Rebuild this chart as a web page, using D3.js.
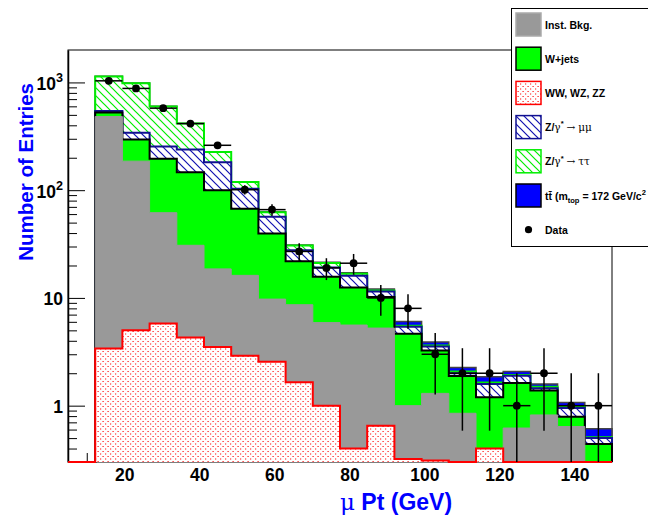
<!DOCTYPE html>
<html>
<head>
<meta charset="utf-8">
<script src="https://cdnjs.cloudflare.com/ajax/libs/d3/7.8.5/d3.min.js"></script>
<style>
  body { margin: 0; background: #fff; }
  svg { display: block; }
</style>
</head>
<body>
<div id="chart"></div>
<script>
// bin edges (GeV), 20 bins of 7.25
const binEdges = [5, 12.25, 19.5, 26.75, 34, 41.25, 48.5, 55.75, 63, 70.25, 77.5,
  84.75, 92, 99.25, 106.5, 113.75, 121, 128.25, 135.5, 142.75, 150];

// stacked backgrounds, bottom -> top (entries per bin)
const ww      = [0, 3.4, 5.0, 5.8, 4.3, 3.5, 2.9, 2.55, 1.65, 1.0, 0.4, 0.65, 0.32, 0.31, 0, 0.4, 0, 0, 0, 0];
const inst    = [0, 479, 181, 56, 26.5, 15.1, 13.3, 7.2, 7.0, 4.9, 5.2, 4.6, 0.68, 0.99, 0.85, 0, 0.62, 0.82, 0.64, 0];
const wjets   = [0, 44, 110, 134, 116, 81.5, 51, 29.8, 13.3, 9.8, 6.9, 4.95, 3.65, 1.95, 1.04, 0.8, 1.0, 0.56, 0.15, 0.44];
const zmumu   = [0, 18, 46, 58, 92, 82, 36, 17, 5.8, 3.5, 3.6, 1.3, 0.75, 0.29, 0.11, 0.39, 0.28, 0.07, 0.16, 0.06];
const ztautau = [0, 593, 643, 344, 176, 43.5, 15.7, 5.9, 2.9, 1.9, 0.7, 0.2, 0.12, 0.08, 0.08, 0.05, 0.03, 0.05, 0.03, 0.01];
const ttbar   = [0, 3, 3, 2.3, 1.5, 1.0, 0.6, 0.5, 0.4, 0.3, 0.3, 0.4, 0.53, 0.27, 0.18, 0.22, 0.14, 0.09, 0.09, 0.1];

// data counts
const dataCounts = [0, 1035, 880, 577, 415, 261, 101, 66, 27, 19, 21, 10, 8, 3, 2, 2, 1, 2, 1, 1];

const xTicks = [20, 40, 60, 80, 100, 120, 140];
const xMinor = [10, 30, 50, 70, 90, 110, 130, 150];
const yTicks = [1, 10, 100, 1000];
const yTickLabels = ["1", "10", "10^{2}", "10^{3}"];
const yMinor = [0.4, 0.5, 0.6, 0.7, 0.8, 0.9, 2, 3, 4, 5, 6, 7, 8, 9,
  20, 30, 40, 50, 60, 70, 80, 90, 200, 300, 400, 500, 600, 700, 800, 900];

const legendLabels = ["Inst. Bkg.", "W+jets", "WW, WZ, ZZ", "Z/γ^{*} → μμ", "Z/γ^{*} → ττ",
  "tt\u0304 (m_{top} = 172 GeV/c^{2}", "Data"];

const W = 648, H = 518;
const padL = 68, padR = 612, padT = 50, padB = 462;
const yMin = 0.3, yMax = 2000;

const svg = d3.select('#chart').append('svg').attr('width', W).attr('height', H)
  .style('font-family', 'Liberation Sans, Arial, sans-serif');
svg.append('rect').attr('width', W).attr('height', H).attr('fill', '#fff');

const x = d3.scaleLinear().domain([5, 150]).range([padL, padR]);
const y = d3.scaleLog().domain([yMin, yMax]).range([padB, padT]);
const yc = v => y(Math.max(v, yMin));

// patterns
const defs = svg.append('defs');
function hatch(id, color) {
  const p = defs.append('pattern').attr('id', id).attr('patternUnits', 'userSpaceOnUse')
    .attr('width', 8).attr('height', 8);
  p.append('rect').attr('width', 8).attr('height', 8).attr('fill', '#fff');
  p.append('path').attr('d', 'M0,0L8,8M-1,7L1,9M7,-1L9,1')
    .attr('stroke', color).attr('stroke-width', 1.2);
}
hatch('hGreen', '#00ee00');
hatch('hBlue', '#1010b0');
const dots = defs.append('pattern').attr('id', 'dRed').attr('patternUnits', 'userSpaceOnUse')
  .attr('width', 5).attr('height', 5);
dots.append('rect').attr('width', 5).attr('height', 5).attr('fill', '#fff');
dots.append('rect').attr('x', 0).attr('y', 3.5).attr('width', 1.2).attr('height', 1).attr('fill', '#ff1010');
dots.append('rect').attr('x', 2.5).attr('y', 1).attr('width', 1.2).attr('height', 1).attr('fill', '#ff1010');

// rich text: ^{..} sup, _{..} sub, greek in symbol-like serif
function rich(t, str, size) {
  const parts = str.split(/(\^\{[^}]*\}|_\{[^}]*\})/).filter(s => s.length);
  let cur = 0;
  parts.forEach(p => {
    let s = p, target = 0, fs = size;
    if (p.startsWith('^{')) { s = p.slice(2, -1); target = -0.45 * size; fs = size * 0.72; }
    else if (p.startsWith('_{')) { s = p.slice(2, -1); target = 0.3 * size; fs = size * 0.72; }
    const runs = s.split(/([\u0370-\u03ff\u2190-\u21ff]+)/).filter(r => r.length);
    runs.forEach(r => {
      const ts = t.append('tspan').text(r).attr('font-size', fs).attr('dy', target - cur);
      cur = target;
      if (/[\u0370-\u03ff\u2190-\u21ff]/.test(r))
        ts.attr('font-family', 'DejaVu Serif, Liberation Serif, serif').attr('font-weight', 'normal');
    });
  });
}

// frame
svg.append('rect').attr('x', padL).attr('y', padT).attr('width', padR - padL).attr('height', padB - padT)
  .attr('fill', 'none').attr('stroke', '#000').attr('stroke-width', 1);

// axes (under histograms)
const xAxis = svg.append('g').attr('transform', `translate(0,${padB})`)
  .call(d3.axisBottom(x).tickValues(xTicks).tickSizeInner(-15).tickSizeOuter(0).tickPadding(20));
xAxis.select('.domain').remove();
xAxis.selectAll('text').attr('font-size', 17.5).attr('font-weight', 'bold').attr('fill', '#000')
  .attr('font-family', 'Liberation Sans, Arial, sans-serif').attr('dy', 0).attr('y', 18.5);
svg.append('g').attr('transform', `translate(0,${padB})`)
  .call(d3.axisBottom(x).tickValues(xMinor).tickSizeInner(-9).tickSizeOuter(0).tickFormat(''))
  .select('.domain').remove();

const yAxis = svg.append('g').attr('transform', `translate(${padL},0)`)
  .call(d3.axisLeft(y).tickValues(yTicks).tickSizeInner(-17).tickSizeOuter(0).tickPadding(5));
yAxis.select('.domain').attr('stroke-width', 1.5);
yAxis.selectAll('.tick text').each(function (d, i) {
  const t = d3.select(this);
  t.text('').attr('x', -5).attr('dy', null).attr('y', 7)
    .attr('font-weight', 'bold').attr('fill', '#000').attr('text-anchor', 'end')
    .attr('font-family', 'Liberation Sans, Arial, sans-serif');
  rich(t, yTickLabels[i], 17.5);
});
svg.append('g').attr('transform', `translate(${padL},0)`)
  .call(d3.axisLeft(y).tickValues(yMinor).tickSizeInner(-9).tickSizeOuter(0).tickFormat(''))
  .select('.domain').remove();

// stacked histograms
const keys = ['ww', 'inst', 'wjets', 'zmumu', 'ztautau', 'ttbar'];
const table = binEdges.slice(0, -1).map((lo, i) => ({
  lo, hi: binEdges[i + 1],
  ww: ww[i], inst: inst[i], wjets: wjets[i], zmumu: zmumu[i], ztautau: ztautau[i], ttbar: ttbar[i]
}));
const stacked = d3.stack().keys(keys)(table);

const styles = {
  ttbar:   { fill: '#0000ff', stroke: '#444', sw: 1.5 },
  ztautau: { fill: 'url(#hGreen)', stroke: '#00ee00', sw: 2 },
  zmumu:   { fill: 'url(#hBlue)', stroke: '#101090', sw: 2 },
  wjets:   { fill: '#00ff00', stroke: '#000', sw: 2 },
  inst:    { fill: '#999999', stroke: '#999999', sw: 1 },
  ww:      { fill: 'url(#dRed)', stroke: '#ff0000', sw: 2 }
};

const hist = svg.append('g');
const area = d3.area().x(d => d[0]).y0(padB).y1(d => d[1]);
const line = d3.line();
for (let k = keys.length - 1; k >= 0; k--) {
  const layer = stacked[k];
  const pts = [];
  layer.forEach((d, i) => {
    const yy = yc(d[1]);
    pts.push([x(table[i].lo), yy], [x(table[i].hi), yy]);
  });
  const st = styles[keys[k]];
  hist.append('path').attr('d', area(pts)).attr('fill', st.fill);
  const outline = [[x(binEdges[0]), padB], ...pts, [x(binEdges[binEdges.length - 1]), padB]];
  hist.append('path').attr('d', line(outline)).attr('fill', 'none')
    .attr('stroke', st.stroke).attr('stroke-width', st.sw);
}

// data with sqrt(N) errors
const dg = svg.append('g');
dataCounts.forEach((n, i) => {
  if (n <= 0) return;
  const cx = x((binEdges[i] + binEdges[i + 1]) / 2);
  const e = Math.sqrt(n);
  dg.append('line').attr('x1', cx).attr('x2', cx).attr('y1', yc(n + e)).attr('y2', yc(n - e))
    .attr('stroke', '#000').attr('stroke-width', 1.5);
  dg.append('line').attr('x1', x(binEdges[i])).attr('x2', x(binEdges[i + 1])).attr('y1', y(n)).attr('y2', y(n))
    .attr('stroke', '#000').attr('stroke-width', 1.5);
  dg.append('circle').attr('cx', cx).attr('cy', y(n)).attr('r', 3.9).attr('fill', '#000');
});

// axis titles
svg.append('text').attr('transform', 'translate(33,83) rotate(-90)').attr('text-anchor', 'end')
  .attr('font-size', 20.5).attr('font-weight', 'bold').attr('fill', '#0000ff').text('Number of Entries');
const xt = svg.append('text').attr('x', 340).attr('y', 510).attr('font-weight', 'bold').attr('fill', '#0000ff');
rich(xt, 'μ Pt (GeV)', 23);

// legend
const lg = svg.append('g');
lg.append('rect').attr('x', 511.5).attr('y', 8.5).attr('width', 200).attr('height', 238)
  .attr('fill', '#fff').attr('stroke', '#000').attr('stroke-width', 1);
const legFill = ['#999999', '#00ff00', 'url(#dRed)', 'url(#hBlue)', 'url(#hGreen)', '#0000ff'];
const legStroke = ['#aaaaaa', '#000', '#ff0000', '#101090', '#00ee00', '#000'];
legendLabels.forEach((lab, i) => {
  const cy = 24.5 + i * 34.2;
  if (i < 6) {
    lg.append('rect').attr('x', 516).attr('y', cy - 11.5).attr('width', 25).attr('height', 23)
      .attr('fill', legFill[i]).attr('stroke', legStroke[i]).attr('stroke-width', 1.5);
  } else {
    lg.append('circle').attr('cx', 528.5).attr('cy', cy).attr('r', 3.6).attr('fill', '#000');
  }
  const t = lg.append('text').attr('x', 545).attr('y', cy + 4).attr('font-weight', 'bold').attr('fill', '#000');
  rich(t, lab, 10.5);
});
</script>
</body>
</html>
